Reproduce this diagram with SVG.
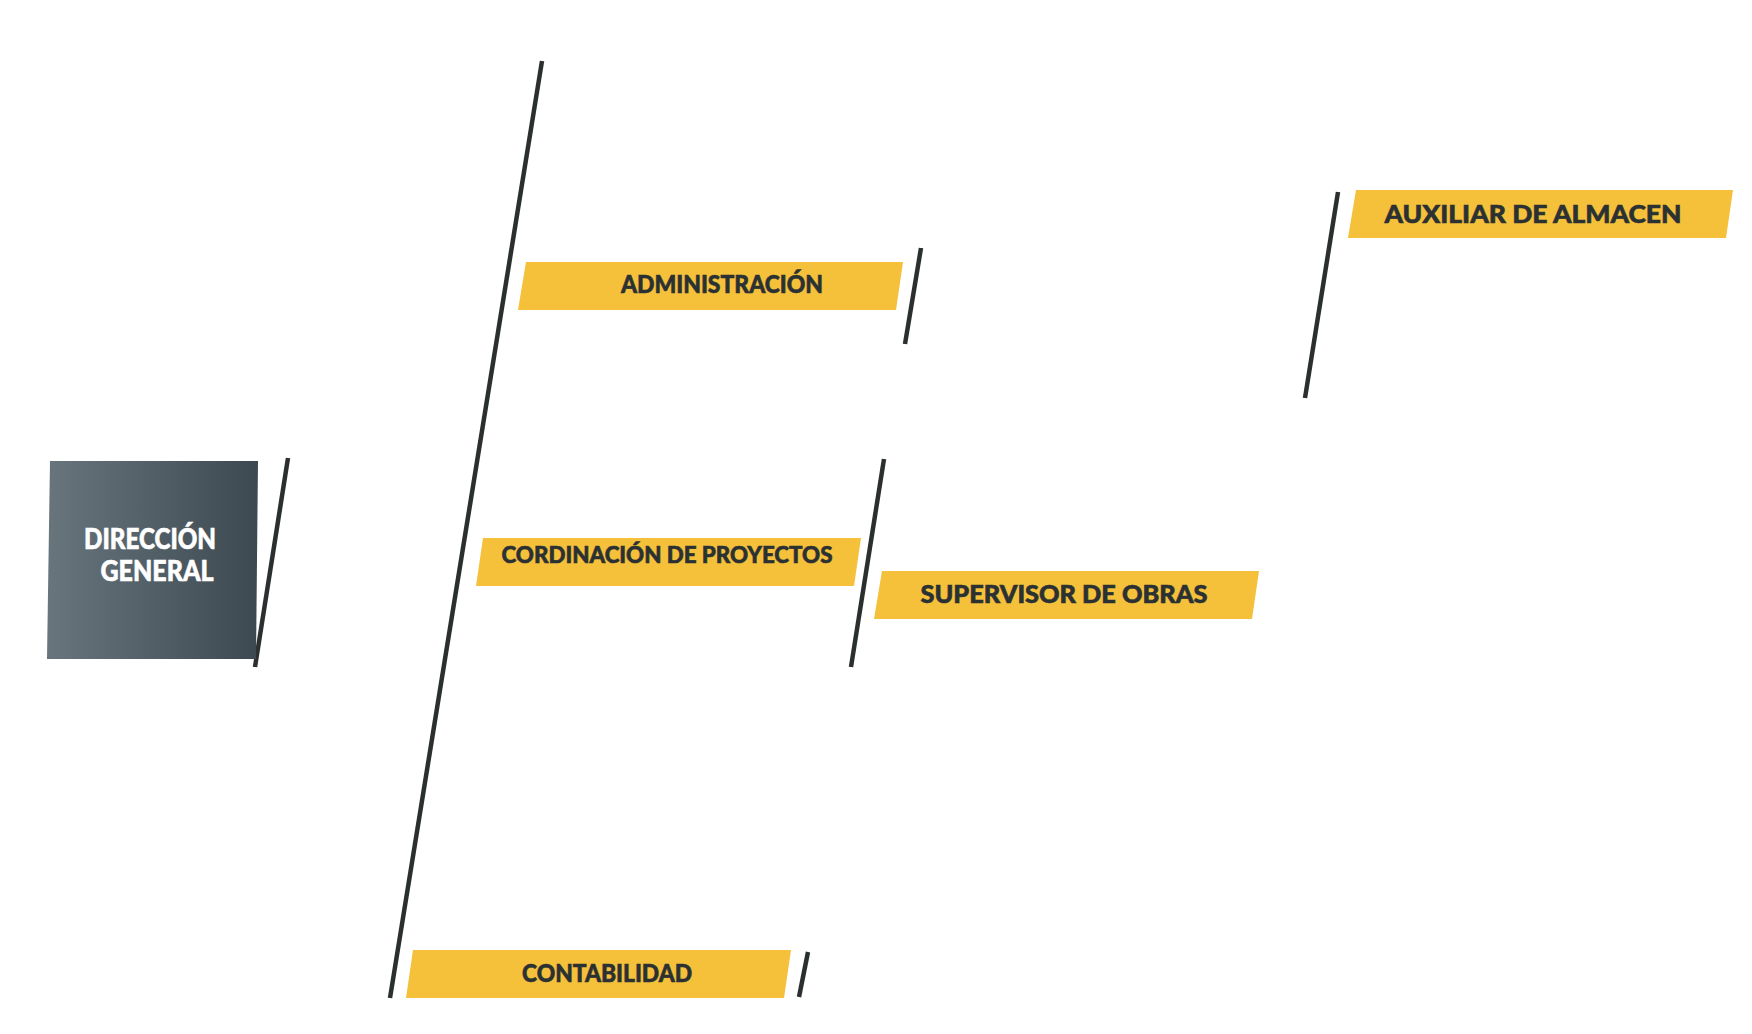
<svg xmlns="http://www.w3.org/2000/svg" width="1752" height="1034" viewBox="0 0 1752 1034">
<defs>
<linearGradient id="g" x1="0" y1="0" x2="1" y2="0">
<stop offset="0" stop-color="#69757d"/>
<stop offset="1" stop-color="#3d4950"/>
</linearGradient>
<style>
.band{fill:#f5c03a}
.t{font-family:Lato,"Liberation Sans",sans-serif;font-weight:900;fill:#2b3132;stroke:#2b3132;stroke-width:0.6;text-anchor:middle}
.w{font-family:Lato,"Liberation Sans",sans-serif;font-weight:900;fill:#ffffff;stroke:#ffffff;stroke-width:0.6;text-anchor:middle}
.ln{stroke:#2b2f30;stroke-width:4.5;fill:none}
</style>
</defs>
<rect width="1752" height="1034" fill="#ffffff"/>
<g id="connectors">
<line class="ln" x1="288" y1="458" x2="255" y2="667"/>
<line class="ln" x1="542" y1="61" x2="390" y2="998"/>
<line class="ln" x1="921" y1="248" x2="905" y2="344"/>
<line class="ln" x1="884" y1="459" x2="851" y2="667"/>
<line class="ln" x1="1338" y1="192" x2="1305" y2="398"/>
<line class="ln" x1="808" y1="952" x2="799" y2="997"/>
</g>
<g id="direccion-general">
<polygon points="50,461 258,461 256,659 47,659" fill="url(#g)"/>
<text class="w" x="150" y="549" font-size="28" textLength="132" lengthAdjust="spacingAndGlyphs">DIRECCIÓN</text>
<text class="w" x="157" y="581" font-size="28" textLength="113" lengthAdjust="spacingAndGlyphs">GENERAL</text>
</g>
<g id="administracion">
<polygon class="band" points="526,262 903,262 896,310 518,310"/>
<text class="t" x="722" y="293" font-size="24" textLength="202" lengthAdjust="spacingAndGlyphs">ADMINISTRACIÓN</text>
</g>
<g id="cordinacion-de-proyectos">
<polygon class="band" points="483,538 861,538 854,586 476,586"/>
<text class="t" x="667" y="563" font-size="23" textLength="331" lengthAdjust="spacingAndGlyphs">CORDINACIÓN DE PROYECTOS</text>
</g>
<g id="supervisor-de-obras">
<polygon class="band" points="882,571 1259,571 1252,619 874,619"/>
<text class="t" x="1064" y="603" font-size="24" textLength="287" lengthAdjust="spacingAndGlyphs">SUPERVISOR DE OBRAS</text>
</g>
<g id="auxiliar-de-almacen">
<polygon class="band" points="1356,190 1733,190 1726,238 1348,238"/>
<text class="t" x="1533" y="223" font-size="25" textLength="297" lengthAdjust="spacingAndGlyphs">AUXILIAR DE ALMACEN</text>
</g>
<g id="contabilidad">
<polygon class="band" points="413,950 791,950 784,998 406,998"/>
<text class="t" x="607" y="982" font-size="24" textLength="170" lengthAdjust="spacingAndGlyphs">CONTABILIDAD</text>
</g>
</svg>
